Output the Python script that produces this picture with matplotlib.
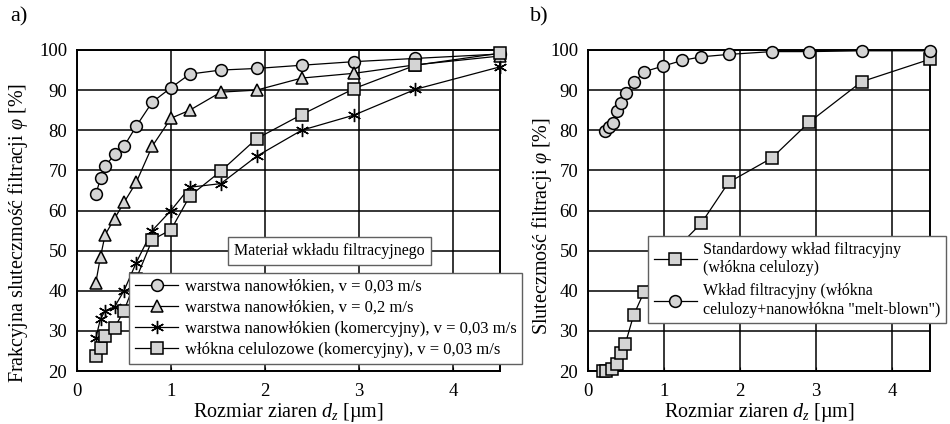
import matplotlib.pyplot as plt
from matplotlib.lines import Line2D

plt.rcParams['font.family'] = ['Liberation Serif', 'DejaVu Serif']
plt.rcParams['mathtext.fontset'] = 'custom'
plt.rcParams['mathtext.rm'] = 'Liberation Serif'
plt.rcParams['mathtext.it'] = 'Liberation Serif:italic'

# panel a)
x_a = [0.2, 0.25, 0.3, 0.4, 0.5, 0.63, 0.8, 1.0, 1.2, 1.53, 1.91, 2.39, 2.95, 3.6, 4.5]
nano_003 = [64, 68, 71, 74, 76, 81, 87, 90.6, 94, 95, 95.4, 96.2, 97.1, 97.9, 99]
nano_02 = [42, 48.5, 54, 58, 62, 67, 76, 83, 85, 89.5, 90, 93, 94.2, 96.3, 98.5]
nano_kom = [28.2, 33, 35, 36, 40, 47, 55, 60, 65.8, 66.7, 73.5, 80, 83.8, 90.2, 95.8]
cel_kom = [23.8, 25.8, 28.8, 30.8, 35, 43, 52.7, 55.2, 63.6, 69.8, 77.9, 83.9, 90.4, 96.2, 99.2]

labels_a = ['warstwa nanowłókien, v = 0,03 m/s',
            'warstwa nanowłókien, v = 0,2 m/s',
            'warstwa nanowłókien (komercyjny), v = 0,03 m/s',
            'włókna celulozowe (komercyjny), v = 0,03 m/s']

# panel b)
x_std = [0.2, 0.24, 0.32, 0.38, 0.43, 0.49, 0.6, 0.74, 0.99, 1.24, 1.49, 1.85, 2.42, 2.91, 3.6, 4.5]
std = [20, 20, 20.6, 21.8, 24.5, 26.7, 33.9, 39.8, 47, 52, 56.8, 67, 73.1, 82, 92.1, 97.7]
x_mb = [0.23, 0.28, 0.33, 0.38, 0.43, 0.5, 0.61, 0.74, 0.99, 1.24, 1.49, 1.85, 2.42, 2.91, 3.6, 4.5]
mb = [79.8, 80.8, 81.8, 84.8, 86.9, 89.4, 92, 94.6, 96, 97.4, 98.3, 98.9, 99.6, 99.6, 99.8, 99.8]

labels_b = ['Standardowy wkład filtracyjny\n(włókna celulozy)',
            'Wkład filtracyjny (włókna\ncelulozy+nanowłókna "melt-blown")']

xlabel = r'Rozmiar ziaren $d_z$ [µm]'
gray = '#d4d4d4'
mk = dict(color='black', lw=0.9, markerfacecolor=gray, markeredgecolor='black',
          markeredgewidth=1.1, clip_on=False, zorder=3)
star = dict(marker=(6, 2, 0), ms=9.5, mew=1.0, color='black', lw=0.9)


def style_axes(ax):
    ax.set_xlim(0, 4.5)
    ax.set_ylim(20, 100)
    ax.set_xticks([0, 1, 2, 3, 4])
    ax.set_yticks(range(20, 101, 10))
    ax.grid(True, color='black', lw=1.1)
    ax.set_axisbelow(True)
    for s in ax.spines.values():
        s.set_linewidth(1.4)
    ax.tick_params(axis='x', direction='in', length=3, labelsize=13.5, pad=9)
    ax.tick_params(axis='y', length=0, labelsize=13.5, pad=7)
    ax.set_xlabel(xlabel, fontsize=14.5, labelpad=0)


fig = plt.figure(figsize=(9.5, 4.24), dpi=100)
ax1 = fig.add_axes([77 / 950, 1 - 371 / 424, 423 / 950, 321 / 424])
ax2 = fig.add_axes([588 / 950, 1 - 371 / 424, 342 / 950, 321 / 424])

ax1.plot(x_a, nano_003, marker='o', ms=8.5, **mk)
ax1.plot(x_a, nano_02, marker='^', ms=9, **mk)
ax1.plot(x_a, nano_kom, clip_on=False, zorder=3, **star)
ax1.plot(x_a, cel_kom, marker='s', ms=8, **mk)
style_axes(ax1)
ax1.set_ylabel('Frakcyjna sluteczmość filtracji $\\varphi$ [%]', fontsize=14.5)
ax1.yaxis.set_label_coords(-0.11, 0.43)

ax2.plot(x_std, std, marker='s', ms=8, **mk)
ax2.plot(x_mb, mb, marker='o', ms=8.5, **mk)
style_axes(ax2)
ax2.set_ylabel('Sluteczmość filtracji $\\varphi$ [%]', fontsize=14.5)
ax2.yaxis.set_label_coords(-0.10, 0.45)

handles_a = [
    Line2D([], [], marker='o', ms=8.5, **mk),
    Line2D([], [], marker='^', ms=9, **mk),
    Line2D([], [], **star),
    Line2D([], [], marker='s', ms=8, **mk),
]
leg1 = fig.legend(handles_a, labels_a, loc='upper left',
                  bbox_to_anchor=(129 / 950, 1 - 273 / 424), fontsize=12,
                  frameon=True, fancybox=False, framealpha=1, edgecolor='#606060',
                  handlelength=2.6, handletextpad=0.4, labelspacing=0.3,
                  borderpad=0.35, borderaxespad=0)
leg1.get_frame().set_linewidth(1.0)

fig.text(234 / 950, 1 - 251 / 424, 'Materiał wkładu filtracyjnego', fontsize=11.5,
         ha='left', va='center',
         bbox=dict(boxstyle='square,pad=0.4', fc='white', ec='#606060', lw=1.0))

handles_b = [
    Line2D([], [], marker='s', ms=8, **mk),
    Line2D([], [], marker='o', ms=8.5, **mk),
]
leg2 = fig.legend(handles_b, labels_b, loc='upper left',
                  bbox_to_anchor=(648 / 950, 1 - 236 / 424), fontsize=11.5,
                  frameon=True, fancybox=False, framealpha=1, edgecolor='#606060',
                  handlelength=2.7, handletextpad=0.4, labelspacing=0.45,
                  borderpad=0.35, borderaxespad=0)
leg2.get_frame().set_linewidth(1.0)

fig.text(10 / 950, 1 - 17 / 424, 'a)', fontsize=16, ha='left', va='center')
fig.text(530 / 950, 1 - 17 / 424, 'b)', fontsize=16, ha='left', va='center')

fig.savefig('out.png', dpi=100)
